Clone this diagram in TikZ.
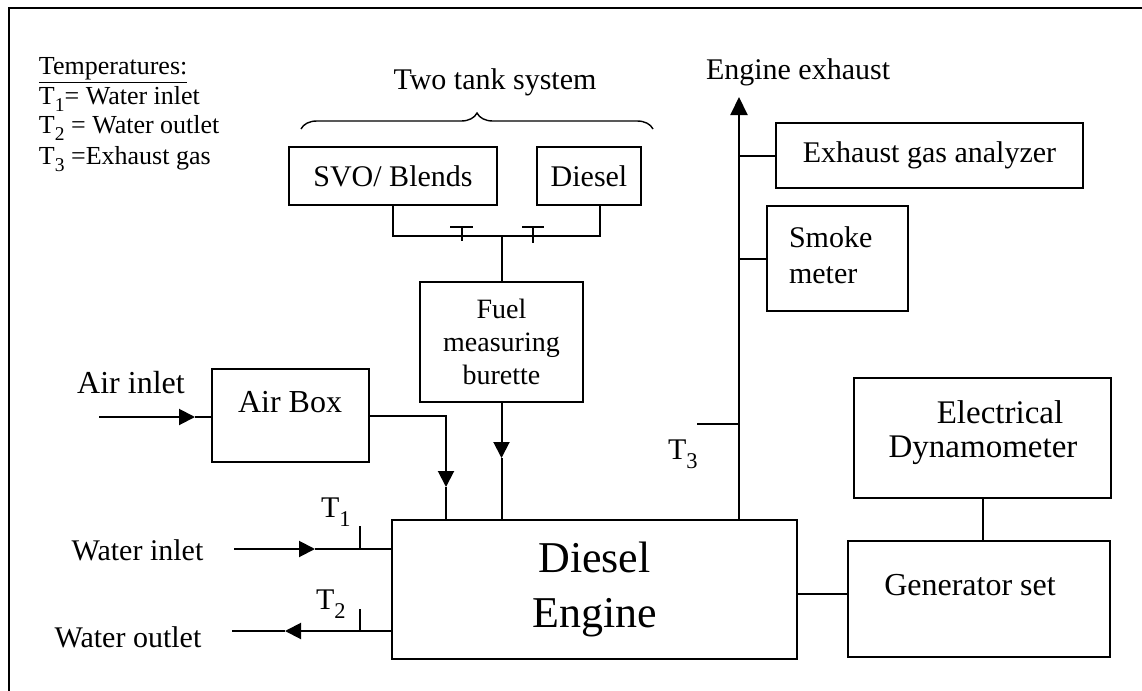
\documentclass[tikz,border=0pt]{standalone}
\usepackage{fontspec}
\setmainfont{Liberation Serif}
\usetikzlibrary{arrows.meta,decorations.pathreplacing}
\newcommand\mysub[1]{\raisebox{-0.3em}{\scalebox{0.75}{#1}}}
\begin{document}
\begin{tikzpicture}[x=0.5pt,y=-0.5pt,
  line width=1pt,
  box/.style={draw,line width=1pt,rectangle,inner sep=0pt},
  lbl/.style={inner sep=0pt,font=\fontsize{15}{18}\selectfont},
  leg/.style={inner sep=0pt,anchor=base west,font=\fontsize{13}{15}\selectfont},
  tip/.style={-{Triangle[length=8pt,width=8pt]}},
]
\useasboundingbox (0,0) rectangle (1142,691);
\draw (8.5,691) -- (8.5,8) -- (1142,8);

% legend
\node[leg] (l0) at (38,74) {\underline{Temperatures:}};
\node[leg] (l1) at (38,104) {T\mysub{1}= Water inlet};
\node[leg] (l2) at (38,133) {T\mysub{2} = Water outlet};
\node[leg] (l3) at (38,164) {T\mysub{3} =Exhaust gas};

% boxes
\node[box,minimum width=104pt,minimum height=29pt,font=\fontsize{15}{18}\selectfont] (svo) at (393,176) {SVO/ Blends};
\node[box,minimum width=52pt,minimum height=29pt,font=\fontsize{15}{18}\selectfont] (dsl) at (589,176) {Diesel};
\node[box,minimum width=81.5pt,minimum height=60pt,align=center,font=\fontsize{14}{16.5}\selectfont] (fuel) at (501.5,342) {Fuel\\measuring\\burette};
\node[box,minimum width=78.5pt,minimum height=46.5pt] (air) at (290.5,415.5) {};
\node[lbl,font=\fontsize{16}{19}\selectfont] (airt) at (290,402) {Air Box};
\node[box,minimum width=202.5pt,minimum height=69.5pt,align=center,font=\fontsize{22}{27.5}\selectfont] (eng) at (594.5,589.5) {Diesel\\Engine};
\node[box,minimum width=153.5pt,minimum height=32.5pt,font=\fontsize{15}{18}\selectfont] (ega) at (929.5,155.5) {Exhaust gas analyzer};
\node[box,minimum width=70.5pt,minimum height=52.5pt] (smk) at (837.5,258.5) {};
\node[lbl,anchor=west,align=left] (smkt) at (788,255) {Smoke\\meter};
\node[box,minimum width=128.5pt,minimum height=60pt] (dyn) at (982.5,438) {};
\node[lbl,font=\fontsize{16.5}{19}\selectfont] (dyn1) at (1000,412) {Electrical};
\node[lbl,font=\fontsize{16.5}{19}\selectfont] (dyn2) at (983,450) {Dynamometer};
\node[box,minimum width=131pt,minimum height=58pt] (gen) at (979,599) {};
\node[lbl,font=\fontsize{16}{19}\selectfont] (gent) at (970,585) {Generator set};

% top labels
\node[lbl,anchor=base west] (ee) at (705,79) {Engine exhaust};
\node[lbl] (tts) at (495,82) {Two tank system};
\draw[line width=0.7pt,decorate,decoration={brace,amplitude=8pt}] (301,129) -- (653,129);

% fuel piping
\coordinate (pj) at (503,236);
\coordinate (dp) at (600,205);
\draw (svo.south) -- (svo.south |- pj) -- (dp |- pj) -- (dp);
\draw (fuel.north) -- (fuel.north |- pj);
\draw (450,227) -- (473,227) (462,227) -- (462,241);
\draw (522,227) -- (544,227) (533,227) -- (533,243);

% fuel to engine
\coordinate (ft) at (503,458);
\draw[tip] (fuel.south) -- (fuel.south |- ft);
\draw (fuel.south |- ft) -- (fuel.south |- eng.north);

% air box to engine
\coordinate (at) at (446,487);
\draw[tip] (air.east) -| (at);
\draw (at) -- (at |- eng.north);

% air inlet
\coordinate (ain) at (99,417);
\coordinate (ait) at (195,417);
\draw[tip] (ain) -- (ait);
\draw (ait) -- (ait -| air.west);
\node[lbl,font=\fontsize{16}{19}\selectfont] (ail) at (131,383) {Air inlet};

% water inlet
\coordinate (wi) at (234,549);
\coordinate (wit) at (315,549);
\draw[tip] (wi) -- (wit);
\draw (wit) -- (wit -| eng.west);
\draw (360,526) -- (360,549);
\node[lbl] (wil) at (137.5,550) {Water inlet};
\node[lbl,anchor=base west] (t1) at (320,517) {T\mysub{1}};

% water outlet
\coordinate (wo) at (232,631);
\coordinate (wot) at (285,631);
\draw[tip] (wot -| eng.west) -- (wot);
\draw (wot) -- (wo);
\draw (360,609) -- (360,631);
\node[lbl] (wol) at (128,637) {Water outlet};
\node[lbl,anchor=base west] (t2) at (315,609) {T\mysub{2}};

% exhaust
\coordinate (ex) at (739,97);
\draw[-{Triangle[length=9pt,width=8.5pt]}] (ex |- eng.north) -- (ex);
\coordinate (t3c) at (697,424);
\draw (t3c) -- (t3c -| ex);
\node[lbl,anchor=base west] (t3) at (667,459) {T\mysub{3}};
\draw (ega.west) -- (ega.west -| ex);
\draw (smk.west) -- (smk.west -| ex);

% generator
\draw (dyn.south) -- (dyn.south |- gen.north);
\coordinate (eg) at (848,594);
\draw (eg -| eng.east) -- (eg -| gen.west);
\end{tikzpicture}
\end{document}
